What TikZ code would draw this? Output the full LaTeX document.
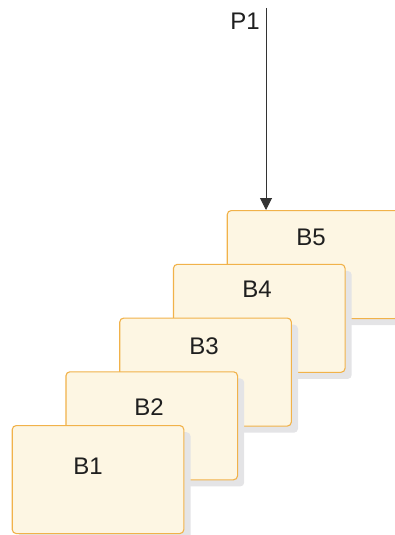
\documentclass[tikz,border=0pt]{standalone}
\usepackage{fontspec}
\setmainfont{Liberation Sans}
\usetikzlibrary{arrows.meta}
\definecolor{boxfill}{HTML}{FDF6E3}
\definecolor{boxline}{HTML}{F1B24A}
\definecolor{shadowgray}{HTML}{E4E4E6}
\definecolor{linegray}{HTML}{333333}
\tikzset{
  box/.style={draw=boxline, fill=boxfill, line width=1.1pt, rounded corners=4pt,
    minimum width=171.6pt, minimum height=108pt, anchor=north west, inner sep=0pt},
  boxshadow/.style={fill=shadowgray, rounded corners=4pt, draw=none,
    minimum width=171.6pt, minimum height=108pt, anchor=north west, inner sep=0pt},
  lbl/.style={font=\fontsize{24}{26}\selectfont, text=black!88, inner sep=0pt},
}
\begin{document}
\begin{tikzpicture}[x=1pt,y=-1pt]
\useasboundingbox (0,0) rectangle (394,535);
% B5
\node[boxshadow] (s5) at (233.7,217) {};
\node[box] (b5) at (226.7,210) {};
\node[lbl] (t5) at (311,237) {B5};
% B4
\node[boxshadow] (s4) at (179.9,270.75) {};
\node[box] (b4) at (172.9,263.75) {};
\node[lbl] (t4) at (257,289) {B4};
% B3
\node[boxshadow] (s3) at (126.2,324.5) {};
\node[box] (b3) at (119.2,317.5) {};
\node[lbl] (t3) at (204,346) {B3};
% B2
\node[boxshadow] (s2) at (72.4,378.25) {};
\node[box] (b2) at (65.4,371.25) {};
\node[lbl] (t2) at (149,407) {B2};
% B1
\node[boxshadow] (s1) at (18.7,432) {};
\node[box] (b1) at (11.7,425) {};
\node[lbl] (t1) at (88,466) {B1};
% P1 arrow
\node[lbl] (p1) at (245,21) {P1};
\coordinate (p1top) at (266,8);
\draw[linegray, line width=1pt, -{Triangle[length=12pt,width=12pt]}] (p1top) -- (p1top |- b5.north);
\end{tikzpicture}
\end{document}
